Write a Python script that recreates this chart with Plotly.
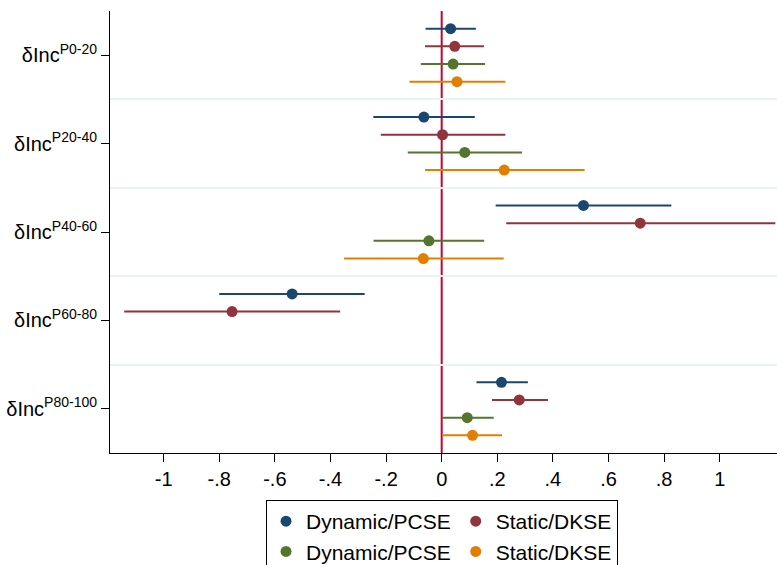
import plotly.graph_objects as go

groups = ["δInc<sup>P0-20</sup>", "δInc<sup>P20-40</sup>", "δInc<sup>P40-60</sup>",
          "δInc<sup>P60-80</sup>", "δInc<sup>P80-100</sup>"]
group_pos = [1, 2, 3, 4, 5]

series_names = ["Dynamic/PCSE", "Static/DKSE", "Dynamic/PCSE", "Static/DKSE"]
series_colors = ["#1a476f", "#90353b", "#55752f", "#e37e00"]
series_offsets = [-0.3, -0.1, 0.1, 0.3]
series_legendgroup = ["a", "b", "a", "b"]

# point estimates
est_blue = [0.032, -0.064, 0.510, -0.538, 0.215]
est_red = [0.047, 0.003, 0.714, -0.754, 0.279]
est_green = [0.041, 0.083, -0.046, None, 0.092]
est_orange = [0.055, 0.225, -0.066, None, 0.111]

# confidence intervals
lo_blue = [-0.058, -0.246, 0.194, -0.800, 0.125]
hi_blue = [0.123, 0.119, 0.826, -0.277, 0.310]
lo_red = [-0.060, -0.219, 0.232, -1.142, 0.181]
hi_red = [0.152, 0.229, 1.200, -0.365, 0.382]
lo_green = [-0.075, -0.122, -0.245, None, 0.001]
hi_green = [0.156, 0.289, 0.153, None, 0.187]
lo_orange = [-0.116, -0.060, -0.351, None, 0.001]
hi_orange = [0.229, 0.514, 0.223, None, 0.217]

x_tickvals = [-1, -0.8, -0.6, -0.4, -0.2, 0, 0.2, 0.4, 0.6, 0.8, 1]
x_ticktext = ["-1", "-.8", "-.6", "-.4", "-.2", "0", ".2", ".4", ".6", ".8", "1"]

ests = [est_blue, est_red, est_green, est_orange]
los = [lo_blue, lo_red, lo_green, lo_orange]
his = [hi_blue, hi_red, hi_green, hi_orange]

FONT = "Liberation Sans, Arial, Helvetica, sans-serif"

fig = go.Figure()
for k in range(4):
    xs, ys, plus, minus = [], [], [], []
    for i, g in enumerate(group_pos):
        e = ests[k][i]
        if e is None:
            continue
        xs.append(e)
        ys.append(g + series_offsets[k])
        plus.append(his[k][i] - e)
        minus.append(e - los[k][i])
    fig.add_trace(go.Scatter(
        x=xs, y=ys, mode="markers", name=series_names[k],
        legendgroup=series_legendgroup[k],
        marker=dict(color=series_colors[k], size=11, line=dict(width=0)),
        error_x=dict(type="data", symmetric=False, array=plus, arrayminus=minus,
                     color=series_colors[k], thickness=2, width=0),
    ))

fig.add_vline(x=0, line=dict(color="#c10534", width=2), layer="below")

fig.update_layout(
    width=777, height=565,
    margin=dict(l=110, r=0, t=11, b=112, autoexpand=False),
    paper_bgcolor="white", plot_bgcolor="white",
    font=dict(family=FONT, size=20, color="black"),
    showlegend=True,
    legend=dict(
        orientation="h", traceorder="grouped",
        x=0.2339, xanchor="left", y=-0.1063, yanchor="top",
        bgcolor="white", bordercolor="black", borderwidth=1,
        font=dict(family=FONT, size=21, color="black"),
        itemsizing="trace", tracegroupgap=0,
    ),
    xaxis=dict(
        range=[-1.193, 1.206], tickvals=x_tickvals, ticktext=x_ticktext,
        showgrid=False, zeroline=False, showline=True, linecolor="black", linewidth=1,
        ticks="outside", ticklen=8, tickcolor="black", tickwidth=1,
        tickfont=dict(size=20, color="black"),
    ),
    yaxis=dict(
        range=[5.5, 0.5], tickvals=group_pos, ticktext=groups,
        showgrid=False, zeroline=False, showline=True, linecolor="black", linewidth=1,
        ticks="outside", ticklen=8, tickcolor="black", tickwidth=1,
        tickfont=dict(size=20, color="black"),
        minor=dict(tickvals=[1.5, 2.5, 3.5, 4.5], showgrid=True,
                   gridcolor="#eaf2f3", gridwidth=2, ticks=""),
    ),
)

fig.write_html("out.html")
